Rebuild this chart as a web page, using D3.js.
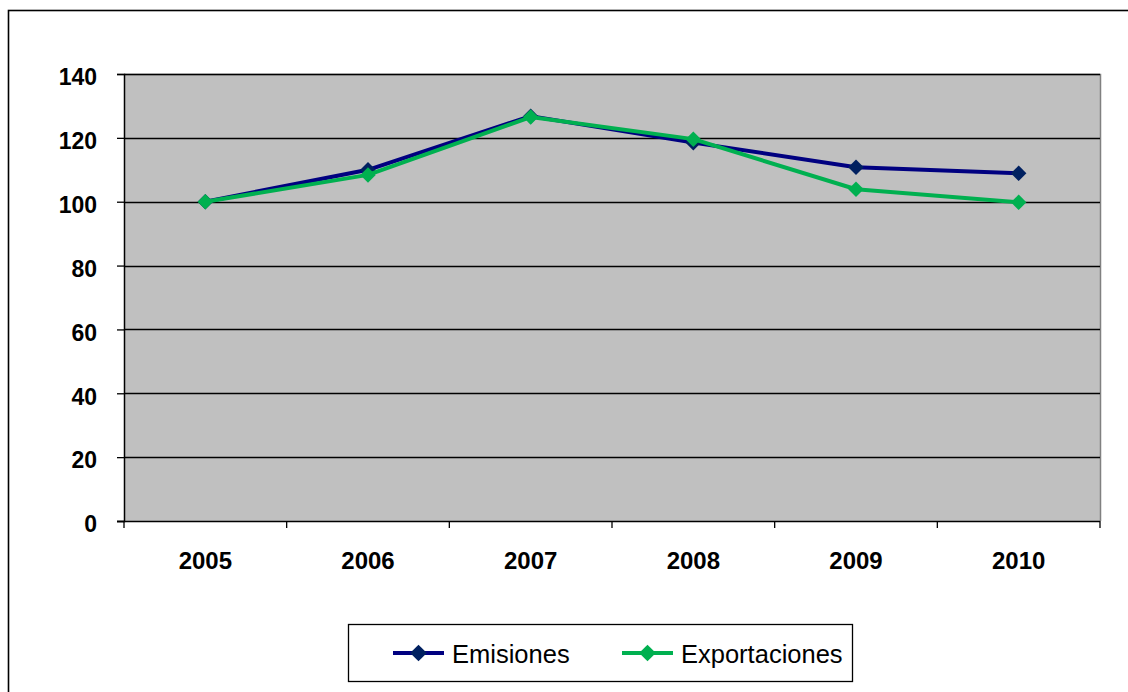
<!DOCTYPE html>
<html>
<head>
<meta charset="utf-8">
<script src="https://cdn.jsdelivr.net/npm/d3@7"></script>
<style>
  html, body { margin: 0; padding: 0; background: #fff; }
  svg { display: block; }
</style>
</head>
<body>
<svg id="chart" width="1128" height="692"></svg>
<script>
// Index values (2005 = 100)
const years = ["2005", "2006", "2007", "2008", "2009", "2010"];
const emisiones = [100, 110, 126.8, 118.5, 110.8, 108.9];
const exportaciones = [100, 108.4, 126.5, 119.6, 103.9, 99.8];
const yTicks = [0, 20, 40, 60, 80, 100, 120, 140];
const seriesNames = ["Emisiones", "Exportaciones"];

const svg = d3.select("#chart");
const W = 1128, H = 692;
const plot = { left: 124, right: 1100, top: 74, bottom: 521 };
const FONT = "Liberation Sans, Arial, sans-serif";

// outer chart frame
svg.append("rect")
  .attr("x", 8.5).attr("y", 10.5)
  .attr("width", W + 10).attr("height", H + 10)
  .attr("fill", "#fff").attr("stroke", "#000").attr("stroke-width", 1.6);

const x = d3.scaleBand().domain(years).range([plot.left, plot.right]);
const y = d3.scaleLinear().domain([0, 140]).range([plot.bottom, plot.top]);

// plot background
svg.append("rect")
  .attr("x", plot.left).attr("y", plot.top)
  .attr("width", plot.right - plot.left).attr("height", plot.bottom - plot.top)
  .attr("fill", "#c0c0c0");
// grey border on top and right edges of plot area
svg.append("path")
  .attr("d", `M${plot.left},${plot.top + 0.5}H${plot.right + 0.5}V${plot.bottom}`)
  .attr("fill", "none").attr("stroke", "#808080").attr("stroke-width", 1.5);

// horizontal gridlines
svg.append("g").selectAll("line")
  .data(yTicks.filter(d => d > 0))
  .join("line")
  .attr("x1", plot.left).attr("x2", plot.right)
  .attr("y1", d => Math.round(y(d)) + 0.5).attr("y2", d => Math.round(y(d)) + 0.5)
  .attr("stroke", "#000").attr("stroke-width", 1.5);

// y axis
const yAxis = svg.append("g")
  .attr("transform", `translate(${plot.left},0)`)
  .call(d3.axisLeft(y).tickValues(yTicks).tickSize(7).tickPadding(20).tickFormat(d3.format("d")));
yAxis.select(".domain").attr("stroke", "#000").attr("stroke-width", 1.5);
yAxis.selectAll(".tick line").attr("stroke", "#000").attr("stroke-width", 1.3);
yAxis.selectAll(".tick text")
  .attr("font-family", FONT)
  .attr("dy", "0.47em")
  .attr("font-size", 23).attr("font-weight", "bold").attr("fill", "#000");

// x axis: ticks at category boundaries
const xAxis = svg.append("g")
  .attr("transform", `translate(0,${plot.bottom})`);
const bounds = years.map(d => x(d)).concat([x(years[years.length - 1]) + x.bandwidth()]);
xAxis.append("line")
  .attr("x1", plot.left - 7).attr("x2", plot.right)
  .attr("y1", 0.5).attr("y2", 0.5)
  .attr("stroke", "#000").attr("stroke-width", 1.5);
xAxis.selectAll("line.tk").data(bounds).join("line")
  .attr("class", "tk")
  .attr("x1", d => d).attr("x2", d => d)
  .attr("y1", 0).attr("y2", 7)
  .attr("stroke", "#000").attr("stroke-width", 1.3);
xAxis.selectAll("text").data(years).join("text")
  .attr("x", d => x(d) + x.bandwidth() / 2)
  .attr("y", 48)
  .attr("text-anchor", "middle")
  .attr("font-family", FONT)
  .attr("font-size", 24).attr("font-weight", "bold").attr("fill", "#000")
  .text(d => d);

// series
const series = [
  { name: seriesNames[0], values: emisiones, line: "#000080", marker: "#002060" },
  { name: seriesNames[1], values: exportaciones, line: "#00b050", marker: "#00b050" }
];
const cx = d => x(d) + x.bandwidth() / 2;
const line = d3.line().x((d, i) => cx(years[i])).y(d => y(d));

series.forEach(s => {
  const g = svg.append("g");
  g.append("path")
    .datum(s.values)
    .attr("d", line)
    .attr("fill", "none")
    .attr("stroke", s.line)
    .attr("stroke-width", 4)
    .attr("stroke-linejoin", "round");
  g.selectAll("path.mk").data(s.values).join("path")
    .attr("class", "mk")
    .attr("transform", (d, i) => `translate(${cx(years[i])},${y(d)}) rotate(45)`)
    .attr("d", d3.symbol().type(d3.symbolSquare).size(120))
    .attr("fill", s.marker);
});

// legend
const lg = svg.append("g");
lg.append("rect")
  .attr("x", 348.5).attr("y", 624.5).attr("width", 504).attr("height", 57)
  .attr("fill", "#fff").attr("stroke", "#000").attr("stroke-width", 1.3);
const legendItems = [
  { s: series[0], x0: 393, x1: 444, tx: 452 },
  { s: series[1], x0: 622, x1: 673, tx: 681 }
];
legendItems.forEach(it => {
  const ly = 653;
  lg.append("line")
    .attr("x1", it.x0).attr("x2", it.x1)
    .attr("y1", ly).attr("y2", ly)
    .attr("stroke", it.s.line).attr("stroke-width", 4);
  lg.append("path")
    .attr("transform", `translate(${(it.x0 + it.x1) / 2},${ly}) rotate(45)`)
    .attr("d", d3.symbol().type(d3.symbolSquare).size(140))
    .attr("fill", it.s.marker);
  lg.append("text")
    .attr("x", it.tx).attr("y", 663)
    .attr("font-family", FONT)
    .attr("font-size", 25.5).attr("fill", "#000")
    .text(it.s.name);
});
</script>
</body>
</html>
